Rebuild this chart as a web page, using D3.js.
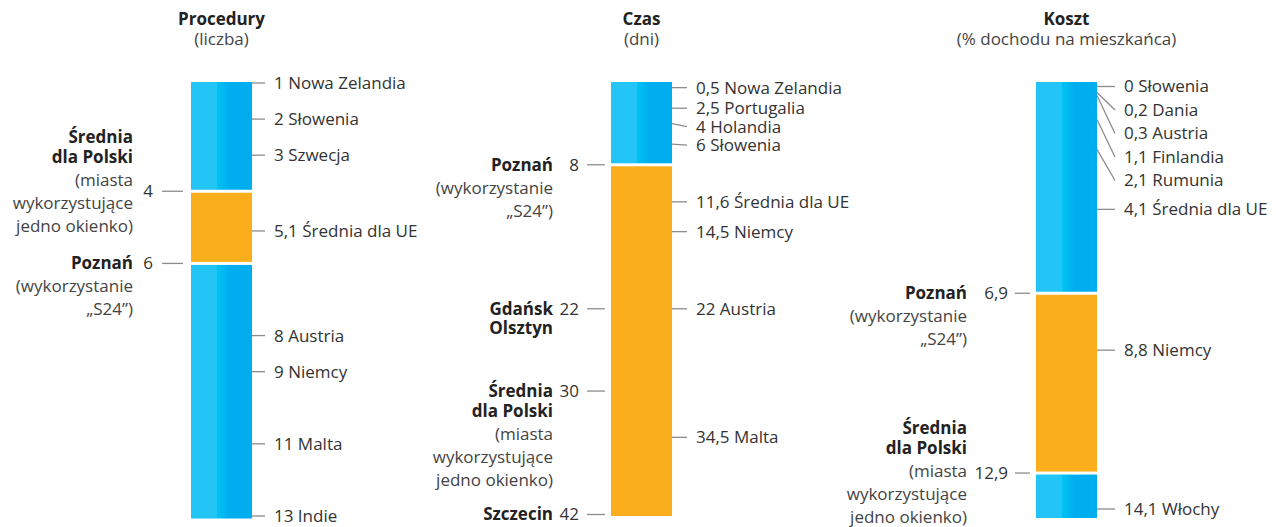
<!DOCTYPE html>
<html>
<head>
<meta charset="utf-8">
<script src="https://d3js.org/d3.v7.min.js"></script>
<style>
  body { margin: 0; background: #fff; }
  text { font-family: "Open Sans", "Noto Sans", sans-serif; font-size: 17px; fill: #333; }
</style>
</head>
<body>
<svg width="1276" height="527"></svg>
<script>

  // Procedury (liczba)
  const procTitle = ['Procedury', '(liczba)'];
  const procExtent = [1, 13];
  const procPoland = [4, 6];
  const procRightValues = [1, 2, 3, 5.1, 8, 9, 11, 13];
  const procRightNames = ['Nowa Zelandia', 'Słowenia', 'Szwecja', 'Średnia dla UE', 'Austria', 'Niemcy', 'Malta', 'Indie'];
  const procLeftValues = [4, 6];
  const procLeftBold = [['Średnia', 'dla Polski'], ['Poznań']];
  const procLeftNote = [['(miasta', 'wykorzystujące', 'jedno okienko)'], ['(wykorzystanie', '„S24”)']];

  // Czas (dni)
  const czasTitle = ['Czas', '(dni)'];
  const czasExtent = [0, 42];
  const czasPoland = [8, 42];
  const czasRightValues = [0.5, 2.5, 4, 6, 11.6, 14.5, 22, 34.5];
  const czasRightNames = ['Nowa Zelandia', 'Portugalia', 'Holandia', 'Słowenia', 'Średnia dla UE', 'Niemcy', 'Austria', 'Malta'];
  const czasLeftValues = [8, 22, 30, 42];
  const czasLeftBold = [['Poznań'], ['Gdańsk', 'Olsztyn'], ['Średnia', 'dla Polski'], ['Szczecin']];
  const czasLeftNote = [['(wykorzystanie', '„S24”)'], [], ['(miasta', 'wykorzystujące', 'jedno okienko)'], []];

  // Koszt (% dochodu na mieszkańca)
  const kosztTitle = ['Koszt', '(% dochodu na mieszkańca)'];
  const kosztExtent = [0, 14.1];
  const kosztPoland = [6.9, 12.9];
  const kosztRightValues = [0, 0.2, 0.3, 1.1, 2.1, 4.1, 8.8, 14.1];
  const kosztRightNames = ['Słowenia', 'Dania', 'Austria', 'Finlandia', 'Rumunia', 'Średnia dla UE', 'Niemcy', 'Włochy'];
  const kosztLeftValues = [6.9, 12.9];
  const kosztLeftBold = [['Poznań'], ['Średnia', 'dla Polski']];
  const kosztLeftNote = [['(wykorzystanie', '„S24”)'], ['(miasta', 'wykorzystujące', 'jedno okienko)']];

  // layout of the three columns
  const panels = [
    { title: procTitle, extent: procExtent, poland: procPoland,
      rv: procRightValues, rn: procRightNames, lv: procLeftValues, lb: procLeftBold, ln: procLeftNote,
      x: 191, range: [83, 516], bar: [82, 518.5], rTick: 13, gap: 18, lift: [2.5, 0],
      lTick: [29, 8], numOff: 38, labOff: 58 },
    { title: czasTitle, extent: czasExtent, poland: czasPoland,
      rv: czasRightValues, rn: czasRightNames, lv: czasLeftValues, lb: czasLeftBold, ln: czasLeftNote,
      x: 611, range: [82.5, 514.5], bar: [82, 516], rTick: 15, gap: 18.5, lift: [0, 0, 0, 0],
      lTick: [24, 6], numOff: 32, labOff: 58 },
    { title: kosztTitle, extent: kosztExtent, poland: kosztPoland,
      rv: kosztRightValues, rn: kosztRightNames, lv: kosztLeftValues, lb: kosztLeftBold, ln: kosztLeftNote,
      x: 1036, range: [86.5, 509], bar: [82, 518], rTick: 18, gap: 23.5, lift: [0, 2.1],
      lTick: [21, 6], numOff: 28, labOff: 69 }
  ];

  const barW = 61;
  const fmt = v => String(v).replace('.', ',');

  const svg = d3.select('svg');

  // gradient for the darker part of the blue bar
  const grad = svg.append('defs')
    .append('linearGradient')
    .attr('id', 'blueGrad')
    .attr('x1', 0).attr('x2', 1).attr('y1', 0).attr('y2', 0);
  grad.append('stop').attr('offset', '0%').attr('stop-color', '#00c3f3');
  grad.append('stop').attr('offset', '35%').attr('stop-color', '#00aeef');
  grad.append('stop').attr('offset', '100%').attr('stop-color', '#00adee');

  panels.forEach(p => {
    const y = d3.scaleLinear().domain(p.extent).range(p.range);
    const g = svg.append('g');
    const x0 = p.x, x1 = p.x + barW, cx = p.x + barW / 2;

    // title
    g.append('text')
      .attr('x', cx).attr('y', 25)
      .attr('text-anchor', 'middle')
      .style('font-weight', 'bold')
      .style('fill', '#222')
      .text(p.title[0]);
    g.append('text')
      .attr('x', cx).attr('y', 45)
      .attr('text-anchor', 'middle')
      .style('fill', '#444')
      .text(p.title[1]);

    // segments: blue outside Polish range, orange inside
    const segs = [
      { a: p.extent[0], b: p.poland[0], c: 'blue' },
      { a: p.poland[0], b: p.poland[1], c: 'orange' },
      { a: p.poland[1], b: p.extent[1], c: 'blue' }
    ].filter(s => s.b > s.a);

    segs.forEach(s => {
      const top = s.a === p.extent[0] ? p.bar[0] : y(s.a) + 1.5;
      const bot = s.b === p.extent[1] ? p.bar[1] : y(s.b) - 1.5;
      if (s.c === 'orange') {
        g.append('rect')
          .attr('x', x0).attr('y', top)
          .attr('width', barW).attr('height', bot - top)
          .style('fill', '#fbae1c');
      } else {
        g.append('rect')
          .attr('x', x0).attr('y', top)
          .attr('width', 26).attr('height', bot - top)
          .style('fill', '#22c5f5');
        g.append('rect')
          .attr('x', x0 + 26).attr('y', top)
          .attr('width', barW - 26).attr('height', bot - top)
          .style('fill', 'url(#blueGrad)');
      }
    });

    // right labels, pushed down when they collide
    let last = -Infinity;
    p.rv.forEach((v, i) => {
      const ly = Math.max(y(v), last + p.gap);
      last = ly;
      g.append('line')
        .attr('x1', x1).attr('y1', y(v))
        .attr('x2', x1 + p.rTick).attr('y2', ly)
        .attr('stroke', '#8c8c8c')
        .attr('stroke-width', 1.3);
      g.append('text')
        .attr('x', x1 + p.rTick + 9).attr('y', ly)
        .attr('dy', '0.35em')
        .text(fmt(v) + ' ' + p.rn[i]);
    });

    // left labels
    p.lv.forEach((v, i) => {
      const yv = y(v);
      g.append('line')
        .attr('x1', x0 - p.lTick[0]).attr('x2', x0 - p.lTick[1])
        .attr('y1', yv).attr('y2', yv)
        .attr('stroke', '#8c8c8c')
        .attr('stroke-width', 1.3);
      g.append('text')
        .attr('x', x0 - p.numOff).attr('y', yv)
        .attr('dy', '0.35em')
        .attr('text-anchor', 'end')
        .text(fmt(v));

      const lines = p.lb[i].map(t => ({ t, b: true }))
        .concat(p.ln[i].map(t => ({ t, b: false })));
      const pos = [0];
      for (let k = 1; k < lines.length; k++) {
        const step = lines[k - 1].b && lines[k].b ? 19.5 : 23;
        pos.push(pos[k - 1] + step);
      }
      const lift = p.lift[i];
      const lo = Math.floor(lift), hi = Math.ceil(lift);
      const anchor = pos[lo] + (pos[hi] - pos[lo]) * (lift - lo);
      lines.forEach((l, k) => {
        g.append('text')
          .attr('x', x0 - p.labOff)
          .attr('y', yv - anchor + pos[k])
          .attr('dy', '0.35em')
          .attr('text-anchor', 'end')
          .style('font-weight', l.b ? 'bold' : 'normal')
          .style('fill', l.b ? '#222' : '#444')
          .text(l.t);
      });
    });
  });

</script>
</body>
</html>
